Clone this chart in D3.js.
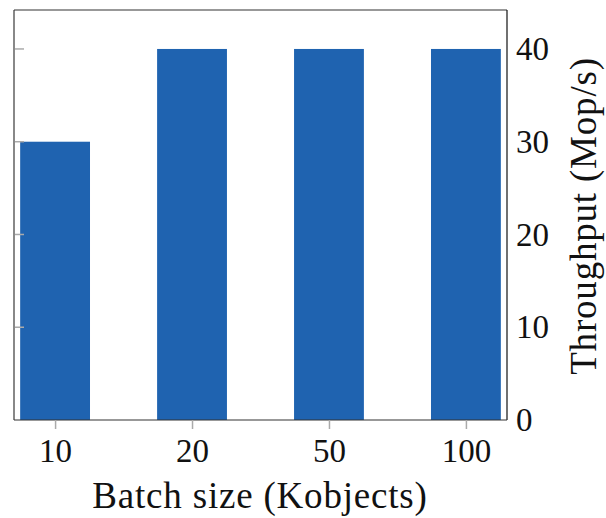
<!DOCTYPE html>
<html>
<head>
<meta charset="utf-8">
<script src="https://cdn.jsdelivr.net/npm/d3@7"></script>
<style>
	body { margin: 0; background: #fff; }
	text { font-family: "Liberation Serif", "Times New Roman", serif; fill: #111; }
</style>
</head>
<body>
<div id="chart"></div>
<script>
// data
var categories = ["10", "20", "50", "100"];
var throughput = [30, 40, 40, 40];
var yTicks = [0, 10, 20, 30, 40];

var width = 606, height = 518;
var margin = { top: 10, right: 99, bottom: 98, left: 14 };
var w = width - margin.left - margin.right;
var h = height - margin.top - margin.bottom;

var svg = d3.select("#chart").append("svg")
	.attr("width", width)
	.attr("height", height);

var g = svg.append("g").attr("transform", "translate(" + margin.left + "," + margin.top + ")");

// index based x, bars at i, plot spans -0.3 .. 3.3
var x = d3.scaleLinear().domain([-0.3, categories.length - 0.7]).range([0, w]);
var step = x(1) - x(0);
var barW = step * 0.51;

var y = d3.scaleLinear().domain([0, 44.2]).range([h, 0]);

g.selectAll("rect.bar")
	.data(throughput)
	.enter().append("rect")
		.attr("class", "bar")
		.attr("x", function(d, i){ return x(i) - barW / 2; })
		.attr("y", function(d){ return y(d); })
		.attr("width", barW)
		.attr("height", function(d){ return h - y(d); })
		.attr("fill", "#1f63b0");

// left mirror ticks (gray, inward)
g.selectAll("line.ltick")
	.data(yTicks.slice(1))
	.enter().append("line")
		.attr("x1", 0).attr("x2", 10)
		.attr("y1", function(d){ return y(d); })
		.attr("y2", function(d){ return y(d); })
		.attr("stroke", "#aaa").attr("stroke-width", 1.5);

// frame
g.append("line").attr("x1", 0).attr("x2", 0).attr("y1", 0).attr("y2", h)
	.attr("stroke", "#888").attr("stroke-width", 2);
g.append("line").attr("x1", 0).attr("x2", w).attr("y1", 0).attr("y2", 0)
	.attr("stroke", "#333").attr("stroke-width", 1.2);
g.append("line").attr("x1", w).attr("x2", w).attr("y1", 0).attr("y2", h)
	.attr("stroke", "#111").attr("stroke-width", 1.2);
g.append("line").attr("x1", 0).attr("x2", w).attr("y1", h).attr("y2", h)
	.attr("stroke", "#333").attr("stroke-width", 1.2);

// bottom axis
var xAxis = d3.axisBottom(x)
	.tickValues(d3.range(categories.length))
	.tickFormat(function(i){ return categories[i]; })
	.tickSize(9)
	.tickPadding(10);

var gx = g.append("g").attr("transform", "translate(0," + h + ")").call(xAxis);
gx.select(".domain").remove();
gx.selectAll(".tick line").attr("stroke", "#aaa").attr("stroke-width", 1.5);
gx.selectAll(".tick text")
	.attr("font-size", 33)
	.attr("font-family", null)
	.attr("fill", "#111");

// right axis
var yAxis = d3.axisRight(y)
	.tickValues(yTicks)
	.tickSize(0)
	.tickPadding(9);

var gy = g.append("g").attr("transform", "translate(" + w + ",0)").call(yAxis);
gy.select(".domain").remove();
gy.selectAll(".tick text")
	.attr("font-size", 33)
	.attr("font-family", null)
	.attr("fill", "#111");

// axis titles
svg.append("text")
	.attr("x", 260)
	.attr("y", 508)
	.attr("text-anchor", "middle")
	.attr("font-size", 37)
	.attr("letter-spacing", 0.8)
	.text("Batch size (Kobjects)");

svg.append("text")
	.attr("transform", "translate(596,216) rotate(-90)")
	.attr("text-anchor", "middle")
	.attr("font-size", 37)
	.attr("letter-spacing", 0.8)
	.text("Throughput (Mop/s)");
</script>
</body>
</html>
